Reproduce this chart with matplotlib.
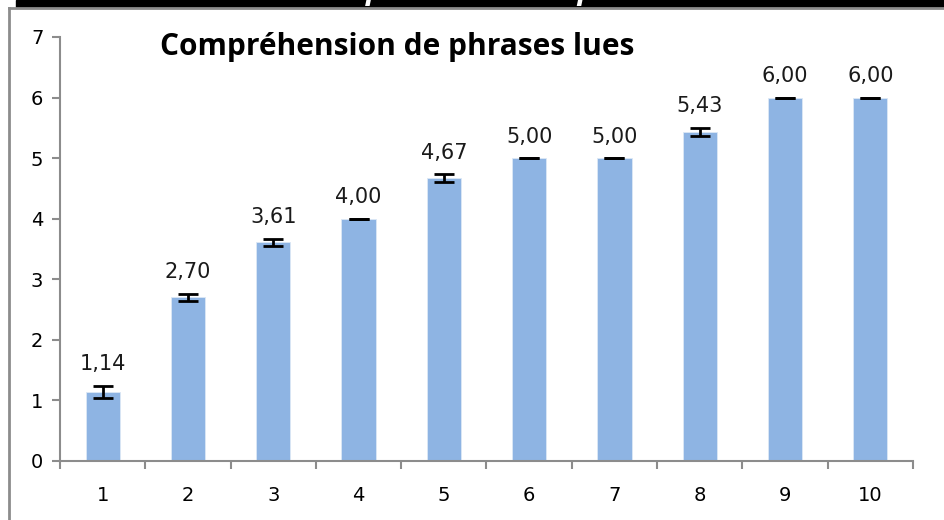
import numpy as np
import matplotlib.pyplot as plt
from matplotlib.patches import Rectangle
from matplotlib.lines import Line2D

# data
groupes = ['1', '2', '3', '4', '5', '6', '7', '8', '9', '10']
moyennes = [1.14, 2.70, 3.61, 4.00, 4.67, 5.00, 5.00, 5.43, 6.00, 6.00]
erreurs = [0.10, 0.06, 0.06, 0.0, 0.06, 0.0, 0.0, 0.07, 0.0, 0.0]
titre = 'Compréhension de phrases lues'

W, H = 945, 520
fig = plt.figure(figsize=(W / 100, H / 100), dpi=100)

# black strip + cropped white heading at the very top (only descenders show)
fig.patches.append(Rectangle((16 / W, 1 - 7 / H), 1, 7 / H, transform=fig.transFigure,
                             color='black', zorder=0))
fig.text(530 / W, 1 + 1 / H, titre, color='white', fontsize=22, fontweight='bold',
         style='italic', ha='center', va='baseline', family='Open Sans', clip_on=True)
# grey frame of the chart area
fig.lines.append(Line2D([9 / W, 9 / W], [0, 1 - 8 / H], transform=fig.transFigure,
                        color='#8c8c8c', lw=2))
fig.lines.append(Line2D([9 / W, 1], [1 - 8 / H, 1 - 8 / H], transform=fig.transFigure,
                        color='#8c8c8c', lw=2))

ax = fig.add_axes([60 / W, (H - 461) / H, (913 - 60) / W, (461 - 37) / H])
x = np.arange(len(groupes))
ax.bar(x, moyennes, width=0.4, color='#8eb4e3', edgecolor='#dce8f5', linewidth=0.6, zorder=2)
ax.errorbar(x, moyennes, yerr=erreurs, fmt='none', ecolor='black', elinewidth=2,
            capsize=7.5, capthick=2, zorder=3)

for xi, v in zip(x, moyennes):
    ax.text(xi, v + erreurs[xi] + 0.19, f'{v:.2f}'.replace('.', ','), ha='center',
            va='bottom', fontsize=15, color='#1a1a1a')

ax.set_xlim(-0.5, len(groupes) - 0.5)
ax.set_ylim(0, 7)
ax.set_yticks(range(8))
ax.set_xticks(np.arange(-0.5, len(groupes), 1))
ax.set_xticklabels([])
ax.set_xticks(x, minor=True)
ax.set_xticklabels(groupes, minor=True)
ax.tick_params(axis='x', which='major', length=6, width=1.5, color='#8c8c8c', direction='out')
ax.tick_params(axis='x', which='minor', length=0, labelsize=14, pad=18)
ax.tick_params(axis='y', length=6, width=1.5, color='#8c8c8c', labelsize=14, pad=6)

for s in ['top', 'right']:
    ax.spines[s].set_visible(False)
for s in ['left', 'bottom']:
    ax.spines[s].set_color('#8c8c8c')
    ax.spines[s].set_linewidth(1.5)

ax.text(0.117, 0.976, titre, transform=ax.transAxes, fontsize=21.5, fontweight='bold',
        family='Open Sans', va='center', ha='left')

fig.savefig('out.png', dpi=100)
